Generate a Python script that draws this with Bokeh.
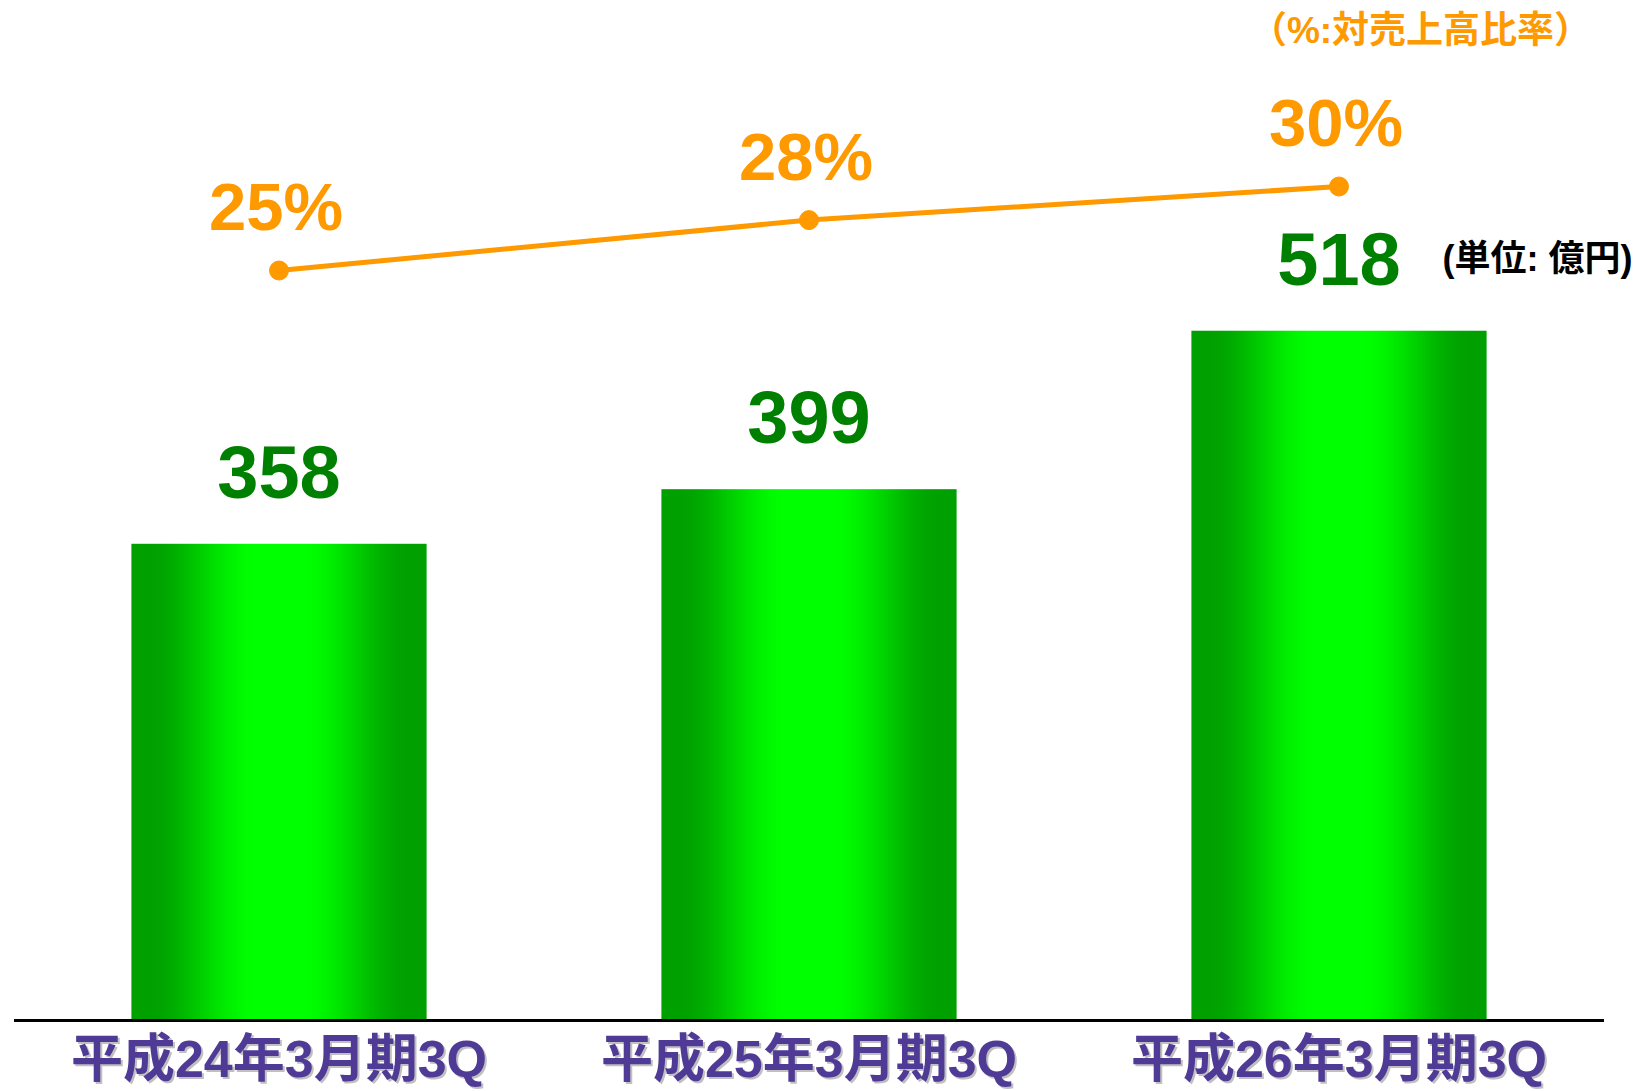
import numpy as np
from bokeh.plotting import figure
from bokeh.models import ColumnDataSource, Range1d, Label
from bokeh.core.properties import value
from bokeh.embed import file_html
from bokeh.resources import INLINE

# ---- data ----
periods = ["平成24年3月期3Q", "平成25年3月期3Q", "平成26年3月期3Q"]
sales = [358, 399, 518]                 # 億円
ratio = [25, 28, 30]                    # % of net sales
sales_labels = ["358", "399", "518"]
ratio_labels = ["25%", "28%", "30%"]
ratio_note = "（%:対売上高比率）"
unit_note = "(単位: 億円)"

# ---- styles ----
GREEN_TXT = "#008000"
ORANGE = "#FF9900"
PURPLE = "#4F3A96"
JP_FONT_NAME = "Liberation Sans, Noto Sans CJK JP"
NUM_FONT = value("Liberation Sans")
JP_FONT = value(JP_FONT_NAME)

W, H = 1641, 1091
PX_PER_CAT = 530.0
CAT0_PX = 13.5
PX_PER_UNIT = 1.3316
BASE_FROM_BOTTOM = 71
PCT_PX = 16.8
PCT_ZERO_FROM_BOTTOM = 401

x_rng = Range1d(-CAT0_PX / PX_PER_CAT, (W - CAT0_PX) / PX_PER_CAT)
y_rng = Range1d(-BASE_FROM_BOTTOM / PX_PER_UNIT, (H - BASE_FROM_BOTTOM) / PX_PER_UNIT)
pct_rng = Range1d(-PCT_ZERO_FROM_BOTTOM / PCT_PX, (H - PCT_ZERO_FROM_BOTTOM) / PCT_PX)

p = figure(width=W, height=H, x_range=x_rng, y_range=y_rng,
           output_backend="svg", toolbar_location=None,
           x_axis_location=None, y_axis_location=None,
           min_border_left=0, min_border_right=0, min_border_top=0, min_border_bottom=0)
p.extra_y_ranges = {"pct": pct_rng}
p.outline_line_color = None
p.xgrid.visible = False
p.ygrid.visible = False
p.background_fill_color = "white"
p.border_fill_color = "white"

n = len(periods)
xpos = np.arange(n) + 0.5   # category centres
src = ColumnDataSource(dict(x=xpos, period=periods, sales=sales, ratio=ratio,
                            sales_label=sales_labels, ratio_label=ratio_labels))

# ---- gradient bars: a horizontal colour ramp stretched over each bar ----
BAR_W = 0.557
M = 295
t = (np.arange(M) + 0.5) / M
d = np.abs(2 * t - 1)
s = np.clip((d - 0.15) / 0.75, 0, 1)
s = s * s * (3 - 2 * s)
g = np.round(160 + 95 * (1 - s)).astype(np.uint32)
ramp = (np.uint32(255) << 24) | (g << 8)       # packed RGBA (A B G R)
ramp = ramp.reshape(1, M).astype(np.uint32)
img_src = ColumnDataSource(dict(image=[ramp] * n, x=list(xpos - BAR_W / 2),
                                dw=[BAR_W] * n, dh=sales))
p.image_rgba(image="image", x="x", y=0, dw="dw", dh="dh", source=img_src)

# baseline spanning all categories
p.segment(x0=[0], x1=[n], y0=[0], y1=[0], line_color="black", line_width=3)

# bar value labels
p.text(x="x", y="sales", text="sales_label", source=src, y_offset=-72,
       text_align="center", text_baseline="alphabetic", text_font=NUM_FONT,
       text_font_size="74px", text_font_style="bold", text_color=GREEN_TXT)

# ratio line
p.line(x="x", y="ratio", source=src, y_range_name="pct", line_color=ORANGE, line_width=5)
p.scatter(x="x", y="ratio", source=src, y_range_name="pct", size=19,
          fill_color=ORANGE, line_color=ORANGE)
p.text(x="x", y="ratio", text="ratio_label", source=src, y_range_name="pct",
       x_offset=-3, y_offset=-64, text_align="center", text_baseline="alphabetic",
       text_font=NUM_FONT, text_font_size="67px", text_font_style="bold", text_color=ORANGE)

# category labels with soft shadow
p.text(x="x", y=0, text="period", source=src, x_offset=2, y_offset=40,
       text_align="center", text_baseline="alphabetic", text_font=JP_FONT,
       text_font_size="52px", text_font_style="bold", text_color="#B0B0B0", text_alpha=0.8)
p.text(x="x", y=0, text="period", source=src, y_offset=38,
       text_align="center", text_baseline="alphabetic", text_font=JP_FONT,
       text_font_size="52px", text_font_style="bold", text_color=PURPLE)

# notes
p.add_layout(Label(x=1420, y=H - 30, x_units="screen", y_units="screen", text=ratio_note,
                   text_align="center", text_baseline="middle", text_font=JP_FONT_NAME,
                   text_font_size="37px", text_font_style="bold", text_color=ORANGE))
p.add_layout(Label(x=1537, y=H - 258, x_units="screen", y_units="screen", text=unit_note,
                   text_align="center", text_baseline="middle", text_font=JP_FONT_NAME,
                   text_font_size="36px", text_font_style="bold", text_color="black"))

open("out.html", "w").write(file_html(p, INLINE))
